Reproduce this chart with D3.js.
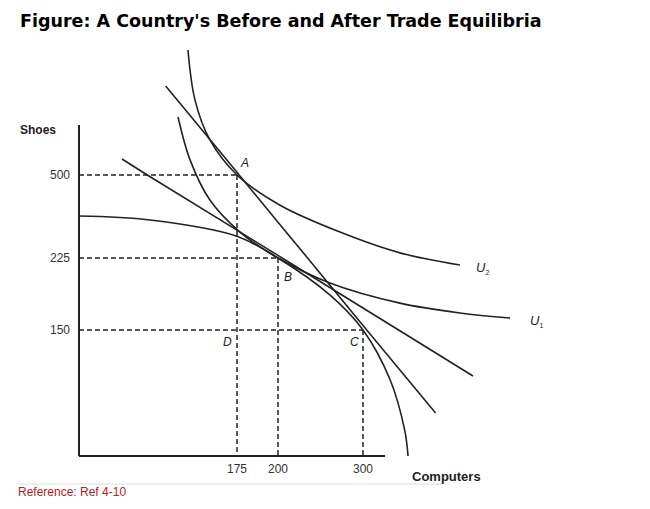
<!DOCTYPE html>
<html><head><meta charset="utf-8">
<script src="https://cdn.jsdelivr.net/npm/d3@7"></script>
<style>
body{margin:0;background:#fff;}
text{font-family:"Liberation Sans",Arial,sans-serif;}
</style></head>
<body><div id="app"></div>
<script>
// tick labels (schematic, unevenly spaced axes)
const xTicks = [175, 200, 300];
const yTicks = [150, 225, 500];

// labelled equilibrium points
const points = [
  {name: 'A', x: 175, y: 500},
  {name: 'B', x: 200, y: 225},
  {name: 'C', x: 300, y: 150},
  {name: 'D', x: 175, y: 150}
];

// production possibilities frontier
const ppf = [[0,364],[78.6,351],[174,298],[200,225],[261,186.5],[300,150],[332,90.5],[349,31],[353,0]];
// indifference curves
const u1 = [[109.7,692],[123,550],[145,417],[176.8,311],[200,225],[261,199],[343.5,178],[414,167.7],[473,162.5]];
const u2 = [[120.7,914],[128.5,748],[145,616],[175,500],[202.4,400],[273,311],[343.5,242],[414,217.7]];
// price lines (world price through A and C, autarky price through B)
const tradeLine = [[96,795],[175,509],[176.3,500],[200,343.5],[234.8,225],[300,154.6],[304.4,150],[385.4,51.2]];
const autarkyLine = [[47.6,553],[75.6,500],[175,317.4],[200,233.6],[204.8,225],[300,172.9],[341.9,150],[429.4,95.2]];

const svg = d3.select('#app').append('svg').attr('width', 650).attr('height', 509);

// piecewise scales match the uneven spacing of the original diagram
const x = d3.scaleLinear().domain([0, 175, 200, 300, 500]).range([79, 237, 278, 363, 533]);
const y = d3.scaleLinear().domain([0, 150, 225, 500, 1000]).range([456, 330, 258, 175, 24]);

svg.append('text').attr('x', 20).attr('y', 27)
  .style('font-family', '"DejaVu Sans",Verdana,sans-serif')
  .style('font-weight', 'bold').style('font-size', '17.5px')
  .text("Figure: A Country's Before and After Trade Equilibria");

// axes
svg.append('line').attr('x1', 79).attr('x2', 79).attr('y1', 125).attr('y2', y(0))
  .attr('stroke', '#222').attr('stroke-width', 2);
svg.append('line').attr('x1', 79).attr('x2', 385).attr('y1', y(0)).attr('y2', y(0))
  .attr('stroke', '#222').attr('stroke-width', 2);

svg.selectAll('.xt').data(xTicks).join('text')
  .attr('x', d => x(d)).attr('y', 473).attr('text-anchor', 'middle')
  .style('font-size', '12px').attr('fill', '#333').text(d => d);
svg.selectAll('.yt').data(yTicks).join('text')
  .attr('x', 70).attr('y', d => y(d) + 4).attr('text-anchor', 'end')
  .style('font-size', '12px').attr('fill', '#333').text(d => d);

svg.append('text').attr('x', 20).attr('y', 134).style('font-size', '12px')
  .style('font-weight', 'bold').attr('fill', '#222').text('Shoes');
svg.append('text').attr('x', 412).attr('y', 481).style('font-size', '13px')
  .style('font-weight', 'bold').attr('fill', '#222').text('Computers');

// dashed guide lines
const dash = svg.append('g').attr('stroke', '#222').attr('stroke-width', 1.5).attr('stroke-dasharray', '5,3');
points.filter(p => p.name !== 'D').forEach(p => {
  dash.append('line').attr('x1', x(0)).attr('x2', x(p.x)).attr('y1', y(p.y)).attr('y2', y(p.y));
  dash.append('line').attr('x1', x(p.x)).attr('x2', x(p.x)).attr('y1', y(p.y)).attr('y2', y(0));
});

// curves and lines
const smooth = d3.line().x(d => x(d[0])).y(d => y(d[1])).curve(d3.curveCatmullRom);
const straight = d3.line().x(d => x(d[0])).y(d => y(d[1]));
[ppf, u1, u2].forEach(c => svg.append('path').attr('d', smooth(c))
  .attr('fill', 'none').attr('stroke', '#222').attr('stroke-width', 1.6));
[tradeLine, autarkyLine].forEach(c => svg.append('path').attr('d', straight(c))
  .attr('fill', 'none').attr('stroke', '#222').attr('stroke-width', 1.6));

// point labels
const offs = {A: [4, -8], B: [6, 23], C: [-13, 16], D: [-14, 16]};
svg.selectAll('.pl').data(points).join('text')
  .attr('x', d => x(d.x) + offs[d.name][0]).attr('y', d => y(d.y) + offs[d.name][1])
  .style('font-size', '12px').style('font-style', 'italic').attr('fill', '#222')
  .text(d => d.name);

// utility labels
[['U', '2', 476, 272], ['U', '1', 530, 325]].forEach(([t, s, lx, ly]) => {
  const tx = svg.append('text').attr('x', lx).attr('y', ly)
    .style('font-size', '13px').style('font-style', 'italic').attr('fill', '#222').text(t);
  tx.append('tspan').attr('dy', 3).style('font-size', '7px').style('font-style', 'normal').text(s);
});

// footer
svg.append('line').attr('x1', 18).attr('x2', 441).attr('y1', 484).attr('y2', 484)
  .attr('stroke', '#ddd').attr('stroke-width', 1);
svg.append('text').attr('x', 18).attr('y', 496).style('font-size', '12px')
  .attr('fill', '#b22222').text('Reference: Ref 4-10');
</script></body></html>
